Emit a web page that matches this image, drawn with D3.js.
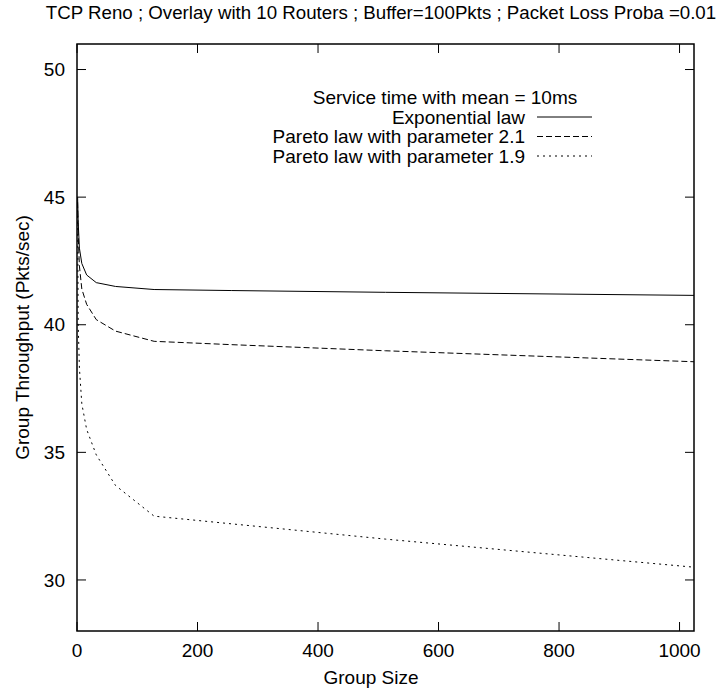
<!DOCTYPE html>
<html>
<head>
<meta charset="utf-8">
<script src="https://cdn.jsdelivr.net/npm/d3@7"></script>
<style>
  body { margin: 0; background: #fff; }
  text { font-family: "Liberation Sans", Arial, sans-serif; fill: #000; }
</style>
</head>
<body>
<div id="chart"></div>
<script>
// group sizes (x) and the three series
const groupSizes = [1, 2, 4, 8, 16, 32, 64, 128, 256, 512, 1024];
const expo   = [45.0, 44.0, 43.0, 42.4, 41.95, 41.65, 41.5, 41.38, 41.34, 41.27, 41.15];
const pareto21 = [44.8, 43.5, 42.3, 41.4, 40.8, 40.2, 39.75, 39.35, 39.22, 38.98, 38.55];
const pareto19 = [44.5, 40.0, 38.3, 36.9, 35.9, 34.9, 33.7, 32.5, 32.2, 31.6, 30.5];

const seriesNames = ["Exponential law", "Pareto law with parameter 2.1", "Pareto law with parameter 1.9"];
const xTicks = [0, 200, 400, 600, 800, 1000];
const yTicks = [30, 35, 40, 45, 50];

const W = 723, H = 692;
const margin = { top: 44, right: 29, bottom: 61, left: 77 };
const width = W - margin.left - margin.right,
      height = H - margin.top - margin.bottom;

const svg = d3.select("#chart").append("svg")
  .attr("width", W)
  .attr("height", H);

const g = svg.append("g")
  .attr("transform", `translate(${margin.left},${margin.top})`);

const x = d3.scaleLinear().domain([0, 1024]).range([0, width]);
const y = d3.scaleLinear().domain([28, 51]).range([height, 0]);

const fs = 19;
const tickLen = 9;

// ticks (inward, mirrored like gnuplot)
g.selectAll(".xt").data(xTicks).enter().append("g").each(function(d) {
  const s = d3.select(this);
  s.append("line").attr("x1", x(d)).attr("x2", x(d)).attr("y1", height).attr("y2", height - tickLen).attr("stroke", "#000");
  s.append("line").attr("x1", x(d)).attr("x2", x(d)).attr("y1", 0).attr("y2", tickLen).attr("stroke", "#000");
  s.append("text").attr("x", x(d)).attr("y", height + 19).attr("dy", "0.35em")
    .attr("text-anchor", "middle").style("font-size", fs + "px").text(d);
});

g.selectAll(".yt").data(yTicks).enter().append("g").each(function(d) {
  const s = d3.select(this);
  s.append("line").attr("x1", 0).attr("x2", tickLen).attr("y1", y(d)).attr("y2", y(d)).attr("stroke", "#000");
  s.append("line").attr("x1", width).attr("x2", width - tickLen).attr("y1", y(d)).attr("y2", y(d)).attr("stroke", "#000");
  s.append("text").attr("x", -12).attr("y", y(d)).attr("dy", "0.35em")
    .attr("text-anchor", "end").style("font-size", fs + "px").text(d);
});

// curves
const dashes = [null, "6,3", "2,4"];
const data = [expo, pareto21, pareto19];
const line = d3.line()
  .x((d, i) => x(groupSizes[i]))
  .y(d => y(d));

g.append("defs").append("clipPath").attr("id", "clip")
  .append("rect").attr("width", width).attr("height", height);

data.forEach((vals, k) => {
  g.append("path")
    .datum(vals)
    .attr("clip-path", "url(#clip)")
    .attr("fill", "none")
    .attr("stroke", "#000")
    .attr("stroke-width", 1)
    .attr("stroke-dasharray", dashes[k])
    .attr("d", line);
});

// border
g.append("rect")
  .attr("width", width).attr("height", height)
  .attr("fill", "none").attr("stroke", "#000").attr("stroke-width", 1.5);

// legend
const legX = 525, legY = 97, legFs = 19;
svg.append("text")
  .attr("x", 445).attr("y", legY).attr("dy", "0.35em")
  .attr("text-anchor", "middle").style("font-size", legFs + "px")
  .text("Service time with mean = 10ms");

seriesNames.forEach((name, k) => {
  const yy = legY + 20 + 19.5 * k;
  svg.append("text")
    .attr("x", legX).attr("y", yy).attr("dy", "0.35em")
    .attr("text-anchor", "end").style("font-size", legFs + "px")
    .text(name);
  svg.append("line")
    .attr("x1", legX + 12).attr("x2", legX + 67)
    .attr("y1", yy).attr("y2", yy)
    .attr("stroke", "#000")
    .attr("stroke-dasharray", dashes[k]);
});

// title and axis labels
svg.append("text")
  .attr("x", 381).attr("y", 12).attr("dy", "0.35em")
  .attr("text-anchor", "middle").style("font-size", "18.7px")
  .text("TCP Reno ; Overlay with 10 Routers ; Buffer=100Pkts ; Packet Loss Proba =0.01");

svg.append("text")
  .attr("x", 371).attr("y", 677).attr("dy", "0.35em")
  .attr("text-anchor", "middle").style("font-size", fs + "px")
  .text("Group Size");

svg.append("text")
  .attr("transform", `translate(22,${margin.top + height / 2}) rotate(-90)`)
  .attr("dy", "0.35em")
  .attr("text-anchor", "middle").style("font-size", fs + "px")
  .text("Group Throughput (Pkts/sec)");
</script>
</body>
</html>
